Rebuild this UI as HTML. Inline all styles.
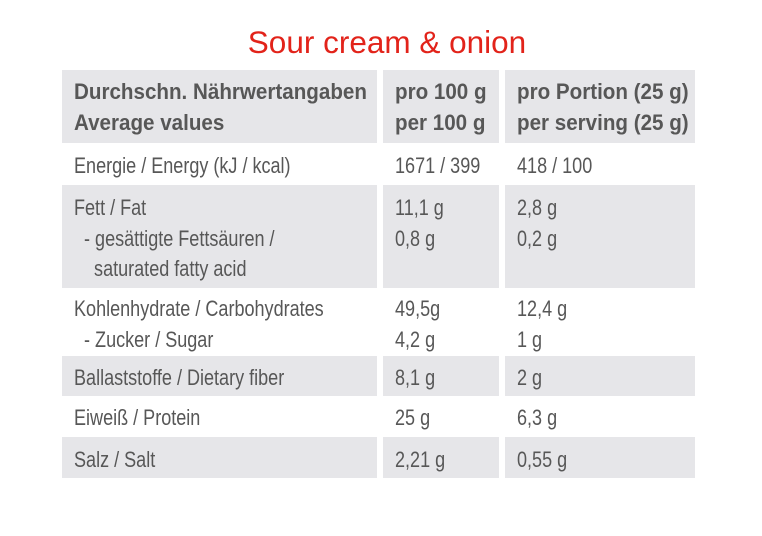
<!DOCTYPE html><html><head><style>
body{margin:0;width:762px;height:536px;background:#fff;position:relative;font-family:"Liberation Sans",sans-serif;color:#575757;overflow:hidden}
.g{position:absolute;background:#e6e6e9}
.t{position:absolute;font-size:22px;line-height:30.5px;white-space:nowrap;transform:scaleX(0.82);transform-origin:left}
.b{font-weight:bold;transform:scaleX(0.936)}
h1{position:absolute;left:0;width:774px;top:24px;margin:0;text-align:center;font:400 31.5px "Liberation Sans",sans-serif;color:#e2231a}
</style></head><body>
<h1>Sour cream &amp; onion</h1>
<div class="g" style="left:62px;top:70px;width:315px;height:73px"></div>
<div class="g" style="left:383px;top:70px;width:116px;height:73px"></div>
<div class="g" style="left:505px;top:70px;width:190px;height:73px"></div>
<div class="g" style="left:62px;top:185px;width:315px;height:103px"></div>
<div class="g" style="left:383px;top:185px;width:116px;height:103px"></div>
<div class="g" style="left:505px;top:185px;width:190px;height:103px"></div>
<div class="g" style="left:62px;top:356px;width:315px;height:40px"></div>
<div class="g" style="left:383px;top:356px;width:116px;height:40px"></div>
<div class="g" style="left:505px;top:356px;width:190px;height:40px"></div>
<div class="g" style="left:62px;top:437px;width:315px;height:41px"></div>
<div class="g" style="left:383px;top:437px;width:116px;height:41px"></div>
<div class="g" style="left:505px;top:437px;width:190px;height:41px"></div>

<div class="t b" style="left:74px;top:77px">Durchschn. Nährwertangaben<br>Average values</div>
<div class="t b" style="left:395px;top:77px">pro 100 g<br>per 100 g</div>
<div class="t b" style="left:517px;top:77px">pro Portion (25 g)<br>per serving (25 g)</div>

<div class="t" style="left:74px;top:151px">Energie / Energy (kJ / kcal)</div>
<div class="t" style="left:395px;top:151px">1671 / 399</div>
<div class="t" style="left:517px;top:151px">418 / 100</div>

<div class="t" style="left:74px;top:193px">Fett / Fat<br>&nbsp;&nbsp;- gesättigte Fettsäuren /<br>&nbsp;&nbsp;&nbsp;&nbsp;saturated fatty acid</div>
<div class="t" style="left:395px;top:193px">11,1 g<br>0,8 g</div>
<div class="t" style="left:517px;top:193px">2,8 g<br>0,2 g</div>

<div class="t" style="left:74px;top:294px">Kohlenhydrate / Carbohydrates<br>&nbsp;&nbsp;- Zucker / Sugar</div>
<div class="t" style="left:395px;top:294px">49,5g<br>4,2 g</div>
<div class="t" style="left:517px;top:294px">12,4 g<br>1 g</div>

<div class="t" style="left:74px;top:363px">Ballaststoffe / Dietary fiber</div>
<div class="t" style="left:395px;top:363px">8,1 g</div>
<div class="t" style="left:517px;top:363px">2 g</div>

<div class="t" style="left:74px;top:403px">Eiweiß / Protein</div>
<div class="t" style="left:395px;top:403px">25 g</div>
<div class="t" style="left:517px;top:403px">6,3 g</div>

<div class="t" style="left:74px;top:445px">Salz / Salt</div>
<div class="t" style="left:395px;top:445px">2,21 g</div>
<div class="t" style="left:517px;top:445px">0,55 g</div>
</body></html>
